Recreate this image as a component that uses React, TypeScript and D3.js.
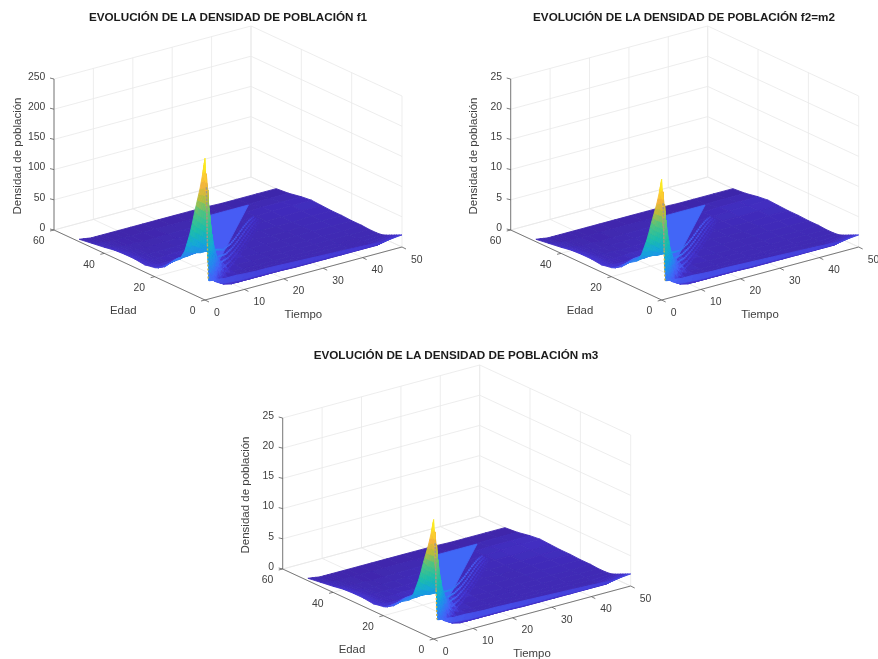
import React from "react";
import * as d3 from "d3";

// ---------- data ----------
const GRID_T = [0, 1, 2, 3, 4, 5, 6, 8, 10, 13, 16, 20, 24, 28, 32, 36, 40, 45, 50];
const GRID_A = [0, 1, 2, 3, 4, 5, 6, 8, 10, 13, 16, 20, 24, 28, 32, 36, 40, 45, 50];
// one row per time in GRID_T, one column per age in GRID_A (f1 units)
const row0 = [235, 205, 180, 160, 140, 118, 98, 66, 48, 38, 24, 15, 12, 14, 14, 13, 10, 7, 4];
const row1 = [30, 205, 180, 155, 130, 110, 90, 62, 50, 40, 27, 13, 10, 11, 11, 10, 8, 5, 3];
const row2 = [29, 45, 175, 150, 125, 105, 85, 60, 50, 41, 29, 13, 9, 9, 9, 8, 6, 4, 2];
const row3 = [28, 24, 50, 140, 118, 98, 78, 58, 51, 42, 32, 14, 7, 7, 7, 6, 5, 3, 1];
const row4 = [28, 20, 24, 48, 110, 90, 72, 56, 52, 42, 32, 16, 6, 6, 5, 5, 4, 2, 1];
const row5 = [27, 17, 16, 20, 40, 90, 70, 56, 52, 43, 33, 18, 6, 5, 5, 4, 3, 2, 1];
const row6 = [27, 16, 12, 12, 16, 32, 70, 55, 52, 43, 33, 20, 6, 5, 4, 4, 3, 2, 1];
const row8 = [27, 15, 9, 8, 8, 9, 14, 45, 50, 44, 34, 21, 8, 5, 4, 3, 3, 2, 1];
const row10 = [26, 14, 9, 6, 5, 5, 6, 12, 30, 34, 34, 22, 9, 6, 4, 3, 2, 2, 1];
const row13 = [25, 14, 9, 6, 5, 4, 4, 5, 6, 10, 22, 22, 10, 6, 4, 4, 3, 2, 1];
const row16 = [25, 14, 9, 6, 5, 4, 4, 4, 4, 5, 8, 14, 10, 6, 5, 4, 3, 2, 1];
const row20 = [24, 14, 9, 6, 5, 4, 4, 4, 4, 4, 5, 6, 6, 6, 5, 5, 4, 2, 1];
const row24 = [23, 13, 8, 6, 5, 4, 4, 4, 4, 4, 4, 5, 5, 5, 5, 5, 4, 2, 1];
const row28 = [22, 13, 8, 6, 5, 4, 4, 4, 4, 4, 4, 4, 5, 5, 5, 5, 4, 2, 1];
const row32 = [21, 13, 8, 6, 5, 4, 4, 4, 4, 4, 4, 4, 4, 5, 5, 5, 5, 2, 1];
const row36 = [20, 12, 8, 6, 5, 4, 4, 4, 4, 4, 4, 4, 4, 5, 6, 6, 5, 2, 0];
const row40 = [19, 12, 8, 6, 5, 4, 4, 4, 4, 4, 5, 5, 5, 5, 6, 7, 6, 2, 0];
const row45 = [17, 12, 8, 6, 4, 3, 3, 3, 4, 4, 4, 5, 6, 6, 7, 8, 6, 2, 0];
const row50 = [20, 18, 16, 14, 12, 10, 8, 5, 4, 4, 5, 5, 6, 6, 7, 8, 6, 2, 0];
const SURFACE = [row0, row1, row2, row3, row4, row5, row6, row8, row10, row13, row16, row20, row24, row28, row32, row36, row40, row45, row50];

// lighter shelf behind the ridge (time, age, density in f1 units)
const SHELF_T = [22, 34, 9];
const SHELF_A = [36, 36, 9];
const SHELF_Z = [28, 28, 28];

// speckled band along the diagonal ridge: position on the ridge, density there, and the steps away from it
const RIDGE_S = [7, 8, 9, 10, 11, 12, 13, 14, 15, 16, 17, 18, 19, 20, 21, 22, 23, 24, 25, 26, 27, 28, 29, 30, 31, 32, 33];
const RIDGE_Z = [62, 58, 54, 50, 46, 42, 40, 38, 36, 34, 32, 31, 30, 29, 28, 28, 27, 27, 26, 26, 25, 24, 23, 22, 20, 18, 16];
const RIDGE_STEP = [0.3, 0.9, 1.5, 2.1, 2.7];
const RIDGE_FADE = [0.92, 0.72, 0.55, 0.4, 0.28];

// dashes down the front edge of the spike: time, age and density at each end
const EDGE_T = [0.55, 0.8, 1.0];
const EDGE_A = [0.3, 0.3, 0.3];
const EDGE_Z = [185, 90, 30];
const EDGE_COLORS = ["#9b9a88", "#cdb445"];

const T_TICKS = [0, 10, 20, 30, 40, 50];
const A_TICKS = [0, 20, 40, 60];
const Z_FRACTIONS = [0, 0.2, 0.4, 0.6, 0.8, 1];
const F1_Z_TICKS = [0, 50, 100, 150, 200, 250];
const F2_Z_TICKS = [0, 5, 10, 15, 20, 25];
const M3_Z_TICKS = [0, 5, 10, 15, 20, 25];

const PARULA_STOPS = [0, 0.06, 0.125, 0.22, 0.33, 0.45, 0.58, 0.7, 0.8, 0.9, 1];
const PARULA_COLORS = ["#3e26a8", "#4433cf", "#4660f8", "#2a86f0", "#12a8d8", "#1fbfa8", "#50c480", "#c0bc38", "#f5b43c", "#fdd82c", "#f9fb15"];

const PANELS = [
  { title: "EVOLUCIÓN DE LA DENSIDAD DE POBLACIÓN f1", ox: 54, oy: 230, tx: 228, ty: 21, ticks: F1_Z_TICKS, unit: 1, spike: 1 },
  { title: "EVOLUCIÓN DE LA DENSIDAD DE POBLACIÓN f2=m2", ox: 510.7, oy: 230, tx: 684, ty: 21, ticks: F2_Z_TICKS, unit: 10, spike: 0.83 },
  { title: "EVOLUCIÓN DE LA DENSIDAD DE POBLACIÓN m3", ox: 282.7, oy: 569, tx: 456, ty: 359, ticks: M3_Z_TICKS, unit: 10, spike: 0.82 },
];

const FONT = "'Liberation Sans', Arial, sans-serif";
const GRID_COLOR = "#e9e9e9";
const AXIS_COLOR = "#5a5a5a";
const TEXT_COLOR = "#404040";

function Panel({ p }: { p: (typeof PANELS)[number] }) {
  const zMax = p.ticks[p.ticks.length - 1];
  const tx = d3.scaleLinear().domain([0, 50]).range([0, 197]);
  const ty = d3.scaleLinear().domain([0, 50]).range([0, -53]);
  const ax = d3.scaleLinear().domain([60, 0]).range([0, 151]);
  const ay = d3.scaleLinear().domain([60, 0]).range([0, 70]);
  const zy = d3.scaleLinear().domain([0, zMax]).range([0, -151]);
  const px = (t: number, a: number) => p.ox + ax(a) + tx(t);
  const py = (t: number, a: number, z: number) => p.oy + ay(a) + ty(t) + zy(z);

  const value = (v: number) => (v > 30 ? 30 + (v - 30) * p.spike : v) / p.unit;
  const zTop = value(d3.max(SURFACE, (r) => d3.max(r)) as number);
  const color = d3
    .scaleLinear<string>()
    .domain(PARULA_STOPS.map((s) => s * zTop))
    .range(PARULA_COLORS)
    .interpolate(d3.interpolateRgb);

  const line = d3
    .line<[number, number]>()
    .x((d) => d[0])
    .y((d) => d[1]);
  const seg = (a: [number, number], b: [number, number]) => line([a, b]) as string;

  const gridPaths: string[] = [];
  p.ticks.forEach((_, i) => {
    const z = zMax * Z_FRACTIONS[i];
    gridPaths.push(seg([px(0, 60), py(0, 60, z)], [px(50, 60), py(50, 60, z)]));
    gridPaths.push(seg([px(50, 60), py(50, 60, z)], [px(50, 0), py(50, 0, z)]));
  });
  T_TICKS.forEach((t) => {
    gridPaths.push(seg([px(t, 60), py(t, 60, 0)], [px(t, 60), py(t, 60, zMax)]));
    gridPaths.push(seg([px(t, 60), py(t, 60, 0)], [px(t, 0), py(t, 0, 0)]));
  });
  A_TICKS.forEach((a) => {
    gridPaths.push(seg([px(50, a), py(50, a, 0)], [px(50, a), py(50, a, zMax)]));
    gridPaths.push(seg([px(0, a), py(0, a, 0)], [px(50, a), py(50, a, 0)]));
  });

  const quads: { d: string; fill: string }[] = [];
  const pushCell = (i: number, j: number) => {
    const t0 = GRID_T[i];
    const t1 = GRID_T[i + 1];
    const a0 = GRID_A[j];
    const a1 = GRID_A[j + 1];
    const z00 = value(SURFACE[i][j]);
    const z10 = value(SURFACE[i + 1][j]);
    const z11 = value(SURFACE[i + 1][j + 1]);
    const z01 = value(SURFACE[i][j + 1]);
    const range = (d3.max([z00, z10, z11, z01]) as number) - (d3.min([z00, z10, z11, z01]) as number);
    const n = Math.max(1, Math.min(10, Math.ceil(range / (zTop * 0.07))));
    const zAt = (u: number, v: number) => (1 - u) * (1 - v) * z00 + u * (1 - v) * z10 + u * v * z11 + (1 - u) * v * z01;
    for (let iu = n - 1; iu >= 0; iu--) {
      for (let iv = n - 1; iv >= 0; iv--) {
        const uv: [number, number][] = [
          [iu / n, iv / n],
          [(iu + 1) / n, iv / n],
          [(iu + 1) / n, (iv + 1) / n],
          [iu / n, (iv + 1) / n],
        ];
        const pts = uv.map(([u, v]) => {
          const t = t0 + (t1 - t0) * u;
          const a = a0 + (a1 - a0) * v;
          const q: [number, number] = [px(t, a), py(t, a, zAt(u, v))];
          return q;
        });
        const m = d3.mean(uv, ([u, v]) => zAt(u, v)) as number;
        quads.push({ d: (line(pts) as string) + "Z", fill: color(m) });
      }
    }
  };
  const shelfRow = GRID_T.indexOf(10);
  const specks: { x: number; y: number; fill: string }[] = [];
  RIDGE_S.forEach((s, k) => {
    RIDGE_STEP.forEach((step, m) => {
      const z = value(RIDGE_Z[k] * RIDGE_FADE[m]);
      specks.push({ x: px(s + step, s), y: py(s + step, s, z), fill: color(z) });
    });
  });
  const shelfIndex: { at: number } = { at: 0 };
  for (let i = GRID_T.length - 2; i >= 0; i--) {
    for (let j = GRID_A.length - 2; j >= 0; j--) pushCell(i, j);
    if (i === shelfRow) {
      const pts = SHELF_T.map((t, k) => {
        const q: [number, number] = [px(t, SHELF_A[k]), py(t, SHELF_A[k], value(SHELF_Z[k]))];
        return q;
      });
      quads.push({ d: (line(pts) as string) + "Z", fill: color(value(SHELF_Z[0])) });
      shelfIndex.at = quads.length;
    }
  }

  const edgePts = EDGE_T.map((t, k) => {
    const q: [number, number] = [px(t, EDGE_A[k]), py(t, EDGE_A[k], value(EDGE_Z[k]))];
    return q;
  });

  const labelStyle = { fontFamily: FONT, fontSize: 10.4, fill: TEXT_COLOR } as const;
  return (
    <g>
      <g stroke={GRID_COLOR} strokeWidth={0.8} fill="none">
        {gridPaths.map((d, i) => (
          <path key={i} d={d} />
        ))}
      </g>
      <g>
        {quads.slice(0, shelfIndex.at).map((q, i) => (
          <path key={i} d={q.d} fill={q.fill} stroke={q.fill} strokeWidth={0.9} strokeLinejoin="round" />
        ))}
        {specks.map((s, i) => (
          <rect key={i} x={s.x - 0.9} y={s.y - 0.9} width={1.8} height={1.8} fill={s.fill} />
        ))}
        {quads.slice(shelfIndex.at).map((q, i) => (
          <path key={i} d={q.d} fill={q.fill} stroke={q.fill} strokeWidth={0.9} strokeLinejoin="round" />
        ))}
        <path d={seg(edgePts[0], edgePts[1])} stroke={EDGE_COLORS[0]} strokeWidth={1.5} strokeDasharray="2.5 1.2" fill="none" />
        <path d={seg(edgePts[1], edgePts[2])} stroke={EDGE_COLORS[1]} strokeWidth={1.3} strokeDasharray="2 2" fill="none" />
      </g>
      <g stroke={AXIS_COLOR} strokeWidth={0.8} fill="none">
        <path d={seg([px(0, 60), py(0, 60, 0)], [px(0, 60), py(0, 60, zMax)])} />
        <path d={seg([px(0, 60), py(0, 60, 0)], [px(0, 0), py(0, 0, 0)])} />
        <path d={seg([px(0, 0), py(0, 0, 0)], [px(50, 0), py(50, 0, 0)])} />
        {p.ticks.map((_, i) => {
          const y = py(0, 60, zMax * Z_FRACTIONS[i]);
          return <path key={i} d={seg([p.ox, y], [p.ox - 4, y - 1])} />;
        })}
        {A_TICKS.map((a) => (
          <path key={a} d={seg([px(0, a), py(0, a, 0)], [px(0, a) - 4, py(0, a, 0) + 1])} />
        ))}
        {T_TICKS.map((t) => (
          <path key={t} d={seg([px(t, 0), py(t, 0, 0)], [px(t, 0) + 4, py(t, 0, 0) + 2])} />
        ))}
      </g>
      {p.ticks.map((v, i) => (
        <text key={v} x={p.ox - 8.7} y={py(0, 60, zMax * Z_FRACTIONS[i]) + 0.7} textAnchor="end" {...labelStyle}>
          {v}
        </text>
      ))}
      {A_TICKS.map((a) => (
        <text key={a} x={px(0, a) - 9.5} y={py(0, a, 0) + 14.3} textAnchor="end" {...labelStyle}>
          {a}
        </text>
      ))}
      {T_TICKS.map((t) => (
        <text key={t} x={px(t, 0) + 9} y={py(t, 0, 0) + 15.5} textAnchor="start" {...labelStyle}>
          {t}
        </text>
      ))}
      <text x={p.ox + 69.3} y={p.oy + 84} textAnchor="middle" fontFamily={FONT} fontSize={11.4} fill={TEXT_COLOR}>
        Edad
      </text>
      <text x={p.ox + 249.3} y={p.oy + 88.3} textAnchor="middle" fontFamily={FONT} fontSize={11.4} fill={TEXT_COLOR}>
        Tiempo
      </text>
      <text
        transform={`translate(${p.ox - 33.5},${p.oy - 74}) rotate(-90)`}
        textAnchor="middle"
        fontFamily={FONT}
        fontSize={11.5}
        fill={TEXT_COLOR}
      >
        Densidad de población
      </text>
      <text x={p.tx} y={p.ty} textAnchor="middle" fontFamily={FONT} fontSize={11.7} fontWeight="bold" fill="#1a1a1a">
        {p.title}
      </text>
    </g>
  );
}

export default function App() {
  return (
    <svg
      width={878}
      height={659}
      viewBox="0 0 878 659"
      style={{ position: "absolute", left: 0, top: 0, display: "block", background: "#fff" }}
    >
      <defs>
        <filter id="soft" x="0" y="0" width="878" height="659" filterUnits="userSpaceOnUse">
          <feGaussianBlur stdDeviation="0.35" />
        </filter>
      </defs>
      <g filter="url(#soft)">
        {PANELS.map((p) => (
          <Panel key={p.title} p={p} />
        ))}
      </g>
    </svg>
  );
}
